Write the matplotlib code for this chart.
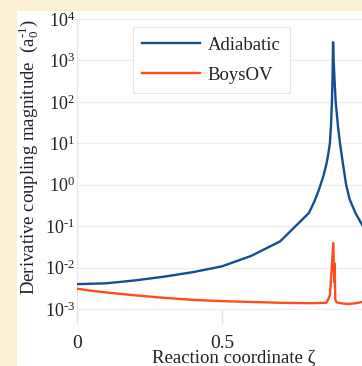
import matplotlib
matplotlib.use("Agg")
import matplotlib.pyplot as plt
from matplotlib.patches import Rectangle
from matplotlib.ticker import FixedLocator, FuncFormatter
import numpy as np

# ---- data (values are log10 of magnitude) ----
zeta_adiabatic = [0.0, 0.1, 0.2, 0.3, 0.4, 0.5, 0.6, 0.7, 0.8, 0.82, 0.83, 0.84,
                  0.85, 0.86, 0.866, 0.872, 0.876, 0.879, 0.881, 0.883, 0.885,
                  0.889, 0.892, 0.9, 0.907, 0.915, 0.928, 0.94, 0.96, 0.983, 1.0]
log_adiabatic = [-2.40, -2.38, -2.31, -2.22, -2.11, -1.97, -1.72, -1.37, -0.68,
                 -0.38, -0.20, 0.0, 0.22, 0.50, 0.72, 1.0, 1.45, 2.0, 2.5, 3.44,
                 3.0, 2.4, 2.0, 1.4, 1.0, 0.6, 0.0, -0.35, -0.68, -0.97, -1.15]

zeta_boys = [0.0, 0.05, 0.1, 0.2, 0.3, 0.4, 0.5, 0.6, 0.7, 0.8, 0.86, 0.8655, 0.8724,
             0.8838, 0.887, 0.8885, 0.8905, 0.895, 0.91, 0.93, 0.95, 0.97, 0.983, 1.0]
log_boys = [-2.51, -2.56, -2.60, -2.67, -2.73, -2.78, -2.81, -2.83, -2.85, -2.86, -2.85,
            -2.78, -2.66, -1.41, -2.35, -1.90, -2.77, -2.84, -2.86, -2.88, -2.87,
            -2.85, -2.83, -2.83]

series_names = ["Adiabatic", "BoysOV"]
xtick_values = [0.0, 0.5]
xtick_labels = ["0", "0.5"]
ytick_exponents = [-3, -2, -1, 0, 1, 2, 3, 4]

# ---- style ----
plt.rcParams['font.family'] = ['Liberation Serif', 'DejaVu Serif']
plt.rcParams['mathtext.fontset'] = 'custom'
plt.rcParams['mathtext.rm'] = 'Liberation Serif'
plt.rcParams['mathtext.it'] = 'Liberation Serif:italic'
plt.rcParams['mathtext.bf'] = 'Liberation Serif:bold'

W, H = 362, 366
fig = plt.figure(figsize=(W / 100, H / 100), dpi=100)
fig.patch.set_facecolor('#fcf0d4')
bg = Rectangle((17 / W, 0), 1 - 17 / W, 1 - 11 / H,
               transform=fig.transFigure, facecolor='white',
               edgecolor='none', zorder=-10)
fig.add_artist(bg)

ax = fig.add_axes([77 / W, 57 / H, 290 / W, 290 / H])
ax.set_zorder(1)
ax.set_facecolor('white')

blue = '#124e96'
red = '#ff4c1c'
ax.plot(zeta_adiabatic, 10 ** np.array(log_adiabatic), color=blue, lw=1.7,
        label=series_names[0], solid_joinstyle='round', zorder=3)
ax.plot(zeta_boys, 10 ** np.array(log_boys), color=red, lw=1.7,
        label=series_names[1], solid_joinstyle='round', zorder=3)

ax.set_yscale('log')
ax.set_ylim(1e-3, 1e4)
ax.set_xlim(0, 1.0)


def fmt_pow(v, p):
    e = int(round(np.log10(v)))
    s = str(e).replace('-', '\u2010')
    return r'$10^{%s}$' % s


ax.yaxis.set_major_locator(FixedLocator([10.0 ** e for e in ytick_exponents]))
ax.yaxis.set_minor_locator(FixedLocator([]))
ax.yaxis.set_major_formatter(FuncFormatter(fmt_pow))
ax.set_xticks(xtick_values)
ax.set_xticklabels(xtick_labels)

ax.tick_params(axis='y', length=0, pad=1.5, labelsize=13, colors='#222222')
ax.tick_params(axis='x', length=11, width=1, color='#e4e4e4', direction='out',
               pad=7.5, labelsize=14, labelcolor='#222222')

ax.grid(axis='y', color='#efefef', lw=1.0)
ax.grid(axis='x', visible=False)
for s in ['top', 'right']:
    ax.spines[s].set_visible(False)
ax.spines['left'].set_color('#e8e8e8')
ax.spines['bottom'].set_color('#efefef')
ax.set_axisbelow(True)

leg = ax.legend(loc='upper left', bbox_to_anchor=(133 / W, 1 - 27 / H),
                bbox_transform=fig.transFigure, borderaxespad=0,
                frameon=True, fancybox=False, framealpha=1, edgecolor='#e6e6e6',
                fontsize=13.5, handlelength=3.05, handletextpad=0.43,
                borderpad=0.5, labelspacing=0.7)
leg.get_frame().set_linewidth(0.8)
for t in leg.get_texts():
    t.set_color('#222222')

fig.text(29 / W, 1 - 157 / H,
         'Derivative coupling magnitude  (a$_0^{\\mathregular{\u20101}}$)',
         rotation=90, ha='center', va='center', fontsize=13.5, color='#222222')
fig.text(234 / W, 3 / H, 'Reaction coordinate ζ', ha='center', va='baseline',
         fontsize=13.5, color='#222222')

fig.savefig('out.png', dpi=100, facecolor=fig.get_facecolor())
